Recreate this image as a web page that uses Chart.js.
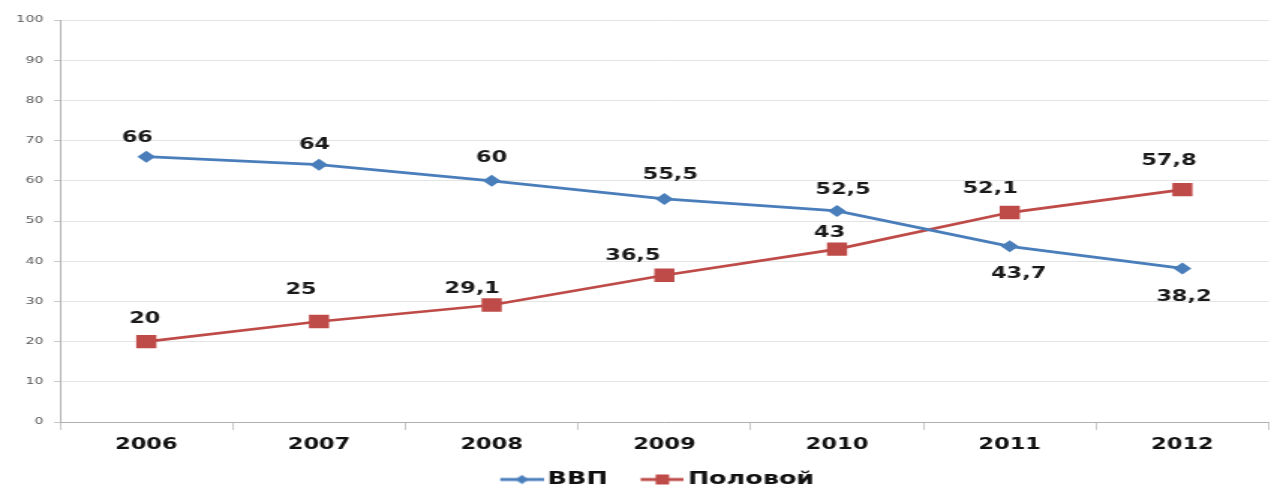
<!DOCTYPE html>
<html>
<head>
<meta charset="utf-8">
<script src="https://cdn.jsdelivr.net/npm/chart.js@4/dist/chart.umd.min.js"></script>
<style>
  html, body { margin: 0; padding: 0; background: #fff; overflow: hidden; width: 1274px; height: 488px; }
  /* the plot is laid out on a narrower canvas and widened horizontally */
  #wrap { position: absolute; left: 0; top: 0; width: 856px; height: 488px;
          transform: scaleX(1.4988); transform-origin: 0 0; }
</style>
</head>
<body>
<div id="wrap"><canvas id="chart"></canvas></div>
<script>
// Data
const years = ['2006', '2007', '2008', '2009', '2010', '2011', '2012'];
const vvp = [66, 64, 60, 55.5, 52.5, 43.7, 38.2];
const polovoy = [20, 25, 29.1, 36.5, 43, 52.1, 57.8];
const yTicks = [0, 10, 20, 30, 40, 50, 60, 70, 80, 90, 100];
const seriesNames = ['ВВП', 'Половой'];

// Where each value label sits relative to its point (canvas px)
const vvpLabelOffsets = [[-6, -19], [-3, -20], [0, -23], [4, -24], [4, -21], [6, 28], [1, 29]];
const polovoyLabelOffsets = [[-1, -22], [-12, -31], [-13, -16], [-21, -19], [-5, -16], [-13, -23], [-9, -29]];

const BLUE = '#4A7EBB';
const RED = '#BE4B48';
const FONT = '"DejaVu Sans", Verdana, sans-serif';

const fmt = v => String(v).replace('.', ',');

// Legend swatch: short line with the series marker in the middle
function legendSwatch(color, marker) {
  const c = document.createElement('canvas');
  c.width = 56; c.height = 14;
  const g = c.getContext('2d');
  const x0 = 27, x1 = 56, cy = 7, cx = (x0 + x1) / 2;
  g.strokeStyle = color; g.lineWidth = 3;
  g.beginPath(); g.moveTo(x0, cy); g.lineTo(x1, cy); g.stroke();
  g.fillStyle = color;
  g.beginPath();
  if (marker === 'diamond') {
    g.moveTo(cx - 4.5, cy); g.lineTo(cx, cy - 4.5); g.lineTo(cx + 4.5, cy); g.lineTo(cx, cy + 4.5);
  } else {
    g.rect(cx - 4.5, cy - 5, 9, 10);
  }
  g.closePath(); g.fill();
  return c;
}

const valueLabels = {
  id: 'valueLabels',
  afterDatasetsDraw(chart) {
    const ctx = chart.ctx;
    ctx.save();
    ctx.font = 'bold 15px ' + FONT;
    ctx.fillStyle = '#1a1a1a';
    ctx.textAlign = 'center';
    ctx.textBaseline = 'middle';
    chart.data.datasets.forEach((ds, di) => {
      const meta = chart.getDatasetMeta(di);
      meta.data.forEach((pt, i) => {
        const [dx, dy] = ds.labelOffsets[i];
        ctx.fillText(fmt(ds.data[i]), pt.x + dx, pt.y + dy);
      });
    });
    ctx.restore();
  }
};

new Chart(document.getElementById('chart'), {
  type: 'line',
  data: {
    labels: years,
    datasets: [
      {
        label: seriesNames[0], data: vvp, labelOffsets: vvpLabelOffsets,
        borderColor: BLUE, backgroundColor: BLUE, borderWidth: 2.75,
        pointStyle: 'rectRot', pointRadius: 6, pointBorderWidth: 0,
        swatch: legendSwatch(BLUE, 'diamond')
      },
      {
        label: seriesNames[1], data: polovoy, labelOffsets: polovoyLabelOffsets,
        borderColor: RED, backgroundColor: RED, borderWidth: 2.75,
        pointStyle: 'rect', pointRadius: 9.5, pointBorderWidth: 0,
        swatch: legendSwatch(RED, 'square')
      }
    ]
  },
  options: {
    responsive: true,
    maintainAspectRatio: false,
    animation: false,
    devicePixelRatio: 1,
    layout: { padding: { top: 20, left: 0, right: 0, bottom: -10 } },
    plugins: {
      tooltip: { enabled: false },
      legend: {
        position: 'bottom',
        align: 'center',
        labels: {
          usePointStyle: true,
          pointStyleWidth: 44,
          padding: 1,
          color: '#111',
          font: { family: FONT, size: 17, weight: 'bold' },
          generateLabels(chart) {
            return chart.data.datasets.map((ds, i) => ({
              text: ds.label,
              pointStyle: ds.swatch,
              fillStyle: ds.borderColor,
              strokeStyle: 'rgba(0,0,0,0)',
              lineWidth: 0,
              fontColor: '#111',
              hidden: false,
              datasetIndex: i
            }));
          }
        }
      }
    },
    scales: {
      x: {
        type: 'category',
        offset: true,
        grid: { offset: true, drawOnChartArea: false, tickLength: 8, color: '#c8c8c8' },
        border: { color: '#b0b0b0', width: 1 },
        ticks: { color: '#111', padding: 6, maxRotation: 0, font: { family: FONT, size: 15, weight: 'bold' } },
        afterFit(scale) { scale.height = 48; }
      },
      y: {
        min: 0, max: 100,
        afterBuildTicks(scale) { scale.ticks = yTicks.map(v => ({ value: v })); },
        grid: { color: '#e4e4e4', tickLength: 4, tickColor: '#c8c8c8' },
        border: { color: '#b0b0b0', width: 1 },
        ticks: { color: '#595959', padding: 7, font: { family: FONT, size: 9.5 } },
        afterFit(scale) { scale.width = 40; }
      }
    }
  },
  plugins: [valueLabels]
});
</script>
</body>
</html>
